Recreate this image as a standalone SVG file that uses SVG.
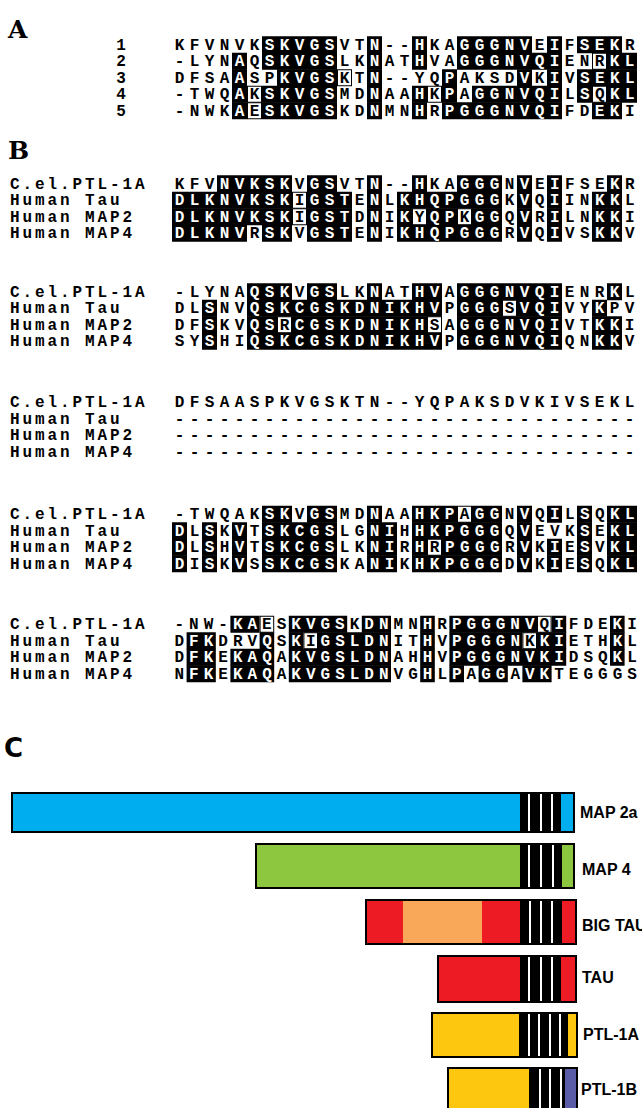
<svg xmlns="http://www.w3.org/2000/svg" width="642" height="1108" viewBox="0 0 642 1108">
<style>
.s{font-family:"Liberation Mono",monospace;font-weight:bold;font-size:16px;letter-spacing:5.4px;fill:#000}
.s5{letter-spacing:5px}
.w{fill:#fff}
.lab{font-family:"Liberation Mono",monospace;font-weight:bold;font-size:16px;letter-spacing:2.9px}
.num{font-family:"Liberation Mono",monospace;font-weight:bold;font-size:16px;text-anchor:middle}
.big{font-family:"DejaVu Serif",serif;font-weight:bold;font-size:25px}
.bx rect{fill:#000}
.bx rect.o{fill:#fff;stroke:#000;stroke-width:1}
.bl{font-family:"Liberation Sans",Arial,sans-serif;font-weight:bold;font-size:16px}
.bar{stroke:#000;stroke-width:2}
.st{fill:#fff}
</style>
<rect width="642" height="1108" fill="#fff"/>

<g id="panelA">
<text class="big" x="8" y="38">A</text>
<g transform="translate(0,36.25)">
<g class="bx">
<rect x="262" y="0" width="75" height="17"/><rect x="367" y="0" width="15" height="17"/><rect x="412" y="0" width="15" height="17"/><rect x="457" y="0" width="75" height="17"/><rect x="547" y="0" width="15" height="17"/><rect x="577" y="0" width="45" height="17"/>
<rect x="232" y="16.5" width="15" height="17"/><rect x="262" y="16.5" width="75" height="17"/><rect x="367" y="16.5" width="15" height="17"/><rect x="412" y="16.5" width="15" height="17"/><rect x="457" y="16.5" width="105" height="17"/><rect x="607" y="16.5" width="30" height="17"/><rect class="o" x="592.5" y="17" width="14" height="16"/>
<rect x="232" y="33" width="15" height="17"/><rect x="277" y="33" width="60" height="17"/><rect x="367" y="33" width="15" height="17"/><rect x="442" y="33" width="15" height="17"/><rect x="517" y="33" width="15" height="17"/><rect x="547" y="33" width="15" height="17"/><rect x="577" y="33" width="60" height="17"/><rect class="o" x="337.5" y="33.5" width="14" height="16"/>
<rect x="232" y="49.5" width="15" height="17"/><rect x="262" y="49.5" width="75" height="17"/><rect x="367" y="49.5" width="15" height="17"/><rect x="412" y="49.5" width="15" height="17"/><rect x="442" y="49.5" width="15" height="17"/><rect x="472" y="49.5" width="90" height="17"/><rect x="577" y="49.5" width="15" height="17"/><rect x="607" y="49.5" width="30" height="17"/><rect class="o" x="247.5" y="50" width="14" height="16"/><rect class="o" x="427.5" y="50" width="14" height="16"/><rect class="o" x="592.5" y="50" width="14" height="16"/>
<rect x="232" y="66" width="15" height="17"/><rect x="262" y="66" width="75" height="17"/><rect x="367" y="66" width="15" height="17"/><rect x="412" y="66" width="15" height="17"/><rect x="442" y="66" width="120" height="17"/><rect x="592" y="66" width="30" height="17"/><rect class="o" x="247.5" y="66.5" width="14" height="16"/>
</g>
<text class="num" x="121" y="13.25">1</text>
<text class="num" x="121" y="29.75">2</text>
<text class="num" x="121" y="46.25">3</text>
<text class="num" x="121" y="62.75">4</text>
<text class="num" x="121" y="79.25">5</text>
<text class="s" x="174.7" y="13.25">KFVNVK<tspan class="w">SKVGS</tspan>VT<tspan class="w">N</tspan>--<tspan class="w">H</tspan>KA<tspan class="w">GGGNV</tspan>E<tspan class="w">I</tspan>F<tspan class="w">SEK</tspan>R</text>
<text class="s" x="174.7" y="29.75">-LYN<tspan class="w">A</tspan>Q<tspan class="w">SKVGS</tspan>LK<tspan class="w">N</tspan>AT<tspan class="w">H</tspan>VA<tspan class="w">GGGNVQI</tspan>ENR<tspan class="w">KL</tspan></text>
<text class="s" x="174.7" y="46.25">DFSA<tspan class="w">A</tspan>SP<tspan class="w">KVGS</tspan>KT<tspan class="w">N</tspan>--YQ<tspan class="w">P</tspan>AKSD<tspan class="w">V</tspan>K<tspan class="w">I</tspan>V<tspan class="w">SEKL</tspan></text>
<text class="s" x="174.7" y="62.75">-TWQ<tspan class="w">A</tspan>K<tspan class="w">SKVGS</tspan>MD<tspan class="w">N</tspan>AA<tspan class="w">H</tspan>K<tspan class="w">P</tspan>A<tspan class="w">GGNVQI</tspan>L<tspan class="w">S</tspan>Q<tspan class="w">KL</tspan></text>
<text class="s" x="174.7" y="79.25">-NWK<tspan class="w">A</tspan>E<tspan class="w">SKVGS</tspan>KD<tspan class="w">N</tspan>MN<tspan class="w">H</tspan>R<tspan class="w">PGGGNVQI</tspan>FD<tspan class="w">EK</tspan>I</text>
</g>
</g>

<g id="panelB">
<text class="big" x="8" y="159">B</text>

<g id="block1" transform="translate(0,175.25)">
<g class="bx">
<rect x="217" y="0" width="75" height="17"/><rect x="307" y="0" width="30" height="17"/><rect x="367" y="0" width="15" height="17"/><rect x="412" y="0" width="15" height="17"/><rect x="457" y="0" width="45" height="17"/><rect x="517" y="0" width="15" height="17"/><rect x="547" y="0" width="15" height="17"/><rect x="607" y="0" width="15" height="17"/>
<rect x="172" y="16.5" width="120" height="17"/><rect x="307" y="16.5" width="45" height="17"/><rect x="367" y="16.5" width="15" height="17"/><rect x="397" y="16.5" width="105" height="17"/><rect x="517" y="16.5" width="15" height="17"/><rect x="547" y="16.5" width="15" height="17"/><rect x="592" y="16.5" width="30" height="17"/><rect class="o" x="292.5" y="17" width="14" height="16"/>
<rect x="172" y="33" width="120" height="17"/><rect x="307" y="33" width="45" height="17"/><rect x="367" y="33" width="15" height="17"/><rect x="397" y="33" width="15" height="17"/><rect x="427" y="33" width="30" height="17"/><rect x="472" y="33" width="30" height="17"/><rect x="517" y="33" width="15" height="17"/><rect x="547" y="33" width="15" height="17"/><rect x="592" y="33" width="30" height="17"/><rect class="o" x="292.5" y="33.5" width="14" height="16"/><rect class="o" x="412.5" y="33.5" width="14" height="16"/><rect class="o" x="457.5" y="33.5" width="14" height="16"/>
<rect x="172" y="49.5" width="75" height="17"/><rect x="262" y="49.5" width="30" height="17"/><rect x="307" y="49.5" width="45" height="17"/><rect x="367" y="49.5" width="15" height="17"/><rect x="397" y="49.5" width="105" height="17"/><rect x="517" y="49.5" width="15" height="17"/><rect x="547" y="49.5" width="15" height="17"/><rect x="592" y="49.5" width="30" height="17"/>
</g>
<text class="lab" x="10" y="13.25">C.el.PTL-1A</text>
<text class="lab" x="10" y="29.75">Human Tau</text>
<text class="lab" x="10" y="46.25">Human MAP2</text>
<text class="lab" x="10" y="62.75">Human MAP4</text>
<text class="s" x="174.7" y="13.25">KFV<tspan class="w">NVKSK</tspan>V<tspan class="w">GS</tspan>VT<tspan class="w">N</tspan>--<tspan class="w">H</tspan>KA<tspan class="w">GGG</tspan>N<tspan class="w">V</tspan>E<tspan class="w">I</tspan>FSE<tspan class="w">K</tspan>R</text>
<text class="s" x="174.7" y="29.75"><tspan class="w">DLKNVKSK</tspan>I<tspan class="w">GST</tspan>E<tspan class="w">N</tspan>L<tspan class="w">KHQPGGG</tspan>K<tspan class="w">V</tspan>Q<tspan class="w">I</tspan>IN<tspan class="w">KK</tspan>L</text>
<text class="s" x="174.7" y="46.25"><tspan class="w">DLKNVKSK</tspan>I<tspan class="w">GST</tspan>D<tspan class="w">N</tspan>I<tspan class="w">K</tspan>Y<tspan class="w">QP</tspan>K<tspan class="w">GG</tspan>Q<tspan class="w">V</tspan>R<tspan class="w">I</tspan>LN<tspan class="w">KK</tspan>I</text>
<text class="s" x="174.7" y="62.75"><tspan class="w">DLKNV</tspan>R<tspan class="w">SK</tspan>V<tspan class="w">GST</tspan>E<tspan class="w">N</tspan>I<tspan class="w">KHQPGGG</tspan>R<tspan class="w">V</tspan>Q<tspan class="w">I</tspan>VS<tspan class="w">KK</tspan>V</text>
</g>

<g id="block2" transform="translate(0,283.25)">
<g class="bx">
<rect x="247" y="0" width="45" height="17"/><rect x="307" y="0" width="30" height="17"/><rect x="367" y="0" width="15" height="17"/><rect x="412" y="0" width="30" height="17"/><rect x="457" y="0" width="105" height="17"/><rect x="607" y="0" width="15" height="17"/>
<rect x="202" y="16.5" width="15" height="17"/><rect x="247" y="16.5" width="195" height="17"/><rect x="457" y="16.5" width="45" height="17"/><rect x="517" y="16.5" width="45" height="17"/><rect x="592" y="16.5" width="15" height="17"/><rect class="o" x="502.5" y="17" width="14" height="16"/>
<rect x="202" y="33" width="15" height="17"/><rect x="247" y="33" width="30" height="17"/><rect x="292" y="33" width="135" height="17"/><rect x="457" y="33" width="105" height="17"/><rect x="592" y="33" width="30" height="17"/><rect class="o" x="277.5" y="33.5" width="14" height="16"/><rect class="o" x="427.5" y="33.5" width="14" height="16"/>
<rect x="202" y="49.5" width="15" height="17"/><rect x="247" y="49.5" width="195" height="17"/><rect x="457" y="49.5" width="105" height="17"/><rect x="592" y="49.5" width="30" height="17"/>
</g>
<text class="lab" x="10" y="13.25">C.el.PTL-1A</text>
<text class="lab" x="10" y="29.75">Human Tau</text>
<text class="lab" x="10" y="46.25">Human MAP2</text>
<text class="lab" x="10" y="62.75">Human MAP4</text>
<text class="s" x="174.7" y="13.25">-LYNA<tspan class="w">QSK</tspan>V<tspan class="w">GS</tspan>LK<tspan class="w">N</tspan>AT<tspan class="w">HV</tspan>A<tspan class="w">GGGNVQI</tspan>ENR<tspan class="w">K</tspan>L</text>
<text class="s" x="174.7" y="29.75">DL<tspan class="w">S</tspan>NV<tspan class="w">QSKCGSKDNIKHV</tspan>P<tspan class="w">GGG</tspan>S<tspan class="w">VQI</tspan>VY<tspan class="w">K</tspan>PV</text>
<text class="s" x="174.7" y="46.25">DF<tspan class="w">S</tspan>KV<tspan class="w">QS</tspan>R<tspan class="w">CGSKDNIKH</tspan>SA<tspan class="w">GGGNVQI</tspan>VT<tspan class="w">KK</tspan>I</text>
<text class="s" x="174.7" y="62.75">SY<tspan class="w">S</tspan>HI<tspan class="w">QSKCGSKDNIKHV</tspan>P<tspan class="w">GGGNVQI</tspan>QN<tspan class="w">KK</tspan>V</text>
</g>

<g id="block3" transform="translate(0,393.75)">
<text class="lab" x="10" y="13.25">C.el.PTL-1A</text>
<text class="lab" x="10" y="29.75">Human Tau</text>
<text class="lab" x="10" y="46.25">Human MAP2</text>
<text class="lab" x="10" y="62.75">Human MAP4</text>
<text class="s" x="174.7" y="13.25">DFSAASPKVGSKTN--YQPAKSDVKIVSEKL</text>
<text class="s" x="174.7" y="29.75">-------------------------------</text>
<text class="s" x="174.7" y="46.25">-------------------------------</text>
<text class="s" x="174.7" y="62.75">-------------------------------</text>
</g>

<g id="block4" transform="translate(0,505.75)">
<g class="bx">
<rect x="262" y="0" width="30" height="17"/><rect x="307" y="0" width="30" height="17"/><rect x="367" y="0" width="15" height="17"/><rect x="412" y="0" width="45" height="17"/><rect x="472" y="0" width="30" height="17"/><rect x="517" y="0" width="15" height="17"/><rect x="547" y="0" width="15" height="17"/><rect x="577" y="0" width="15" height="17"/><rect x="607" y="0" width="30" height="17"/><rect class="o" x="457.5" y="0.5" width="14" height="16"/>
<rect x="172" y="16.5" width="15" height="17"/><rect x="202" y="16.5" width="15" height="17"/><rect x="232" y="16.5" width="15" height="17"/><rect x="262" y="16.5" width="75" height="17"/><rect x="367" y="16.5" width="30" height="17"/><rect x="412" y="16.5" width="90" height="17"/><rect x="517" y="16.5" width="15" height="17"/><rect x="577" y="16.5" width="15" height="17"/><rect x="607" y="16.5" width="30" height="17"/>
<rect x="172" y="33" width="15" height="17"/><rect x="202" y="33" width="15" height="17"/><rect x="232" y="33" width="15" height="17"/><rect x="262" y="33" width="75" height="17"/><rect x="367" y="33" width="30" height="17"/><rect x="412" y="33" width="15" height="17"/><rect x="442" y="33" width="60" height="17"/><rect x="517" y="33" width="15" height="17"/><rect x="547" y="33" width="15" height="17"/><rect x="577" y="33" width="15" height="17"/><rect x="607" y="33" width="30" height="17"/><rect class="o" x="427.5" y="33.5" width="14" height="16"/>
<rect x="172" y="49.5" width="15" height="17"/><rect x="202" y="49.5" width="15" height="17"/><rect x="232" y="49.5" width="15" height="17"/><rect x="262" y="49.5" width="75" height="17"/><rect x="367" y="49.5" width="30" height="17"/><rect x="412" y="49.5" width="90" height="17"/><rect x="517" y="49.5" width="15" height="17"/><rect x="547" y="49.5" width="15" height="17"/><rect x="577" y="49.5" width="15" height="17"/><rect x="607" y="49.5" width="30" height="17"/>
</g>
<text class="lab" x="10" y="13.25">C.el.PTL-1A</text>
<text class="lab" x="10" y="29.75">Human Tau</text>
<text class="lab" x="10" y="46.25">Human MAP2</text>
<text class="lab" x="10" y="62.75">Human MAP4</text>
<text class="s" x="174.7" y="13.25">-TWQAK<tspan class="w">SK</tspan>V<tspan class="w">GS</tspan>MD<tspan class="w">N</tspan>AA<tspan class="w">HKP</tspan>A<tspan class="w">GG</tspan>N<tspan class="w">V</tspan>Q<tspan class="w">I</tspan>L<tspan class="w">S</tspan>Q<tspan class="w">KL</tspan></text>
<text class="s" x="174.7" y="29.75"><tspan class="w">D</tspan>L<tspan class="w">S</tspan>K<tspan class="w">V</tspan>T<tspan class="w">SKCGS</tspan>LG<tspan class="w">NI</tspan>H<tspan class="w">HKPGGG</tspan>Q<tspan class="w">V</tspan>EVK<tspan class="w">S</tspan>E<tspan class="w">KL</tspan></text>
<text class="s" x="174.7" y="46.25"><tspan class="w">D</tspan>L<tspan class="w">S</tspan>H<tspan class="w">V</tspan>T<tspan class="w">SKCGS</tspan>LK<tspan class="w">NI</tspan>R<tspan class="w">H</tspan>R<tspan class="w">PGGG</tspan>R<tspan class="w">V</tspan>K<tspan class="w">I</tspan>E<tspan class="w">S</tspan>V<tspan class="w">KL</tspan></text>
<text class="s" x="174.7" y="62.75"><tspan class="w">D</tspan>I<tspan class="w">S</tspan>K<tspan class="w">V</tspan>S<tspan class="w">SKCGS</tspan>KA<tspan class="w">NI</tspan>K<tspan class="w">HKPGGG</tspan>D<tspan class="w">V</tspan>K<tspan class="w">I</tspan>E<tspan class="w">S</tspan>Q<tspan class="w">KL</tspan></text>
</g>

<g id="block5" transform="translate(0,615.75)">
<g class="bx">
<rect x="230.4" y="0" width="29.2" height="17"/><rect x="288.8" y="0" width="58.4" height="17"/><rect x="361.8" y="0" width="29.2" height="17"/><rect x="420.2" y="0" width="14.6" height="17"/><rect x="449.4" y="0" width="87.6" height="17"/><rect x="551.6" y="0" width="14.6" height="17"/><rect x="610" y="0" width="14.6" height="17"/><rect class="o" x="260.1" y="0.5" width="13.6" height="16"/><rect class="o" x="537.5" y="0.5" width="13.6" height="16"/>
<rect x="186.6" y="16.5" width="29.2" height="17"/><rect x="259.6" y="16.5" width="14.6" height="17"/><rect x="288.8" y="16.5" width="14.6" height="17"/><rect x="318" y="16.5" width="73" height="17"/><rect x="420.2" y="16.5" width="14.6" height="17"/><rect x="449.4" y="16.5" width="73" height="17"/><rect x="537" y="16.5" width="29.2" height="17"/><rect x="610" y="16.5" width="14.6" height="17"/><rect class="o" x="303.9" y="17" width="13.6" height="16"/><rect class="o" x="522.9" y="17" width="13.6" height="16"/>
<rect x="186.6" y="33" width="29.2" height="17"/><rect x="230.4" y="33" width="43.8" height="17"/><rect x="288.8" y="33" width="102.2" height="17"/><rect x="420.2" y="33" width="14.6" height="17"/><rect x="449.4" y="33" width="116.8" height="17"/><rect x="610" y="33" width="14.6" height="17"/>
<rect x="186.6" y="49.5" width="29.2" height="17"/><rect x="230.4" y="49.5" width="43.8" height="17"/><rect x="288.8" y="49.5" width="102.2" height="17"/><rect x="420.2" y="49.5" width="14.6" height="17"/><rect x="449.4" y="49.5" width="14.6" height="17"/><rect x="478.6" y="49.5" width="29.2" height="17"/><rect x="522.4" y="49.5" width="29.2" height="17"/>
</g>
<text class="lab" x="10" y="13.25">C.el.PTL-1A</text>
<text class="lab" x="10" y="29.75">Human Tau</text>
<text class="lab" x="10" y="46.25">Human MAP2</text>
<text class="lab" x="10" y="62.75">Human MAP4</text>
<text class="s s5" x="174.5" y="13.25">-NW-<tspan class="w">KA</tspan>ES<tspan class="w">KVGS</tspan>K<tspan class="w">DN</tspan>MN<tspan class="w">H</tspan>R<tspan class="w">PGGGNV</tspan>Q<tspan class="w">I</tspan>FDE<tspan class="w">K</tspan>I</text>
<text class="s s5" x="174.5" y="29.75">D<tspan class="w">FK</tspan>DRV<tspan class="w">Q</tspan>S<tspan class="w">K</tspan>I<tspan class="w">GSLDN</tspan>IT<tspan class="w">H</tspan>V<tspan class="w">PGGGN</tspan>K<tspan class="w">KI</tspan>ETH<tspan class="w">K</tspan>L</text>
<text class="s s5" x="174.5" y="46.25">D<tspan class="w">FK</tspan>E<tspan class="w">KAQ</tspan>A<tspan class="w">KVGSLDN</tspan>AH<tspan class="w">H</tspan>V<tspan class="w">PGGGNVKI</tspan>DSQ<tspan class="w">K</tspan>L</text>
<text class="s s5" x="174.5" y="62.75">N<tspan class="w">FK</tspan>E<tspan class="w">KAQ</tspan>A<tspan class="w">KVGSLDN</tspan>VG<tspan class="w">H</tspan>L<tspan class="w">P</tspan>A<tspan class="w">GG</tspan>A<tspan class="w">VK</tspan>TEGGGS</text>
</g>
</g>

<g id="panelC">
<text x="4" y="757" style="font-family:'DejaVu Sans',sans-serif;font-weight:bold;font-size:26px">C</text>
<g id="map2a">
<rect class="bar" x="12" y="793" width="562" height="39" fill="#00AEEF"/>
<rect x="520" y="794" width="41" height="37" fill="#000"/>
<rect class="st" x="528" y="794" width="2" height="37"/><rect class="st" x="540" y="794" width="2" height="37"/><rect class="st" x="551" y="794" width="2" height="37"/>
<text class="bl" x="580" y="818">MAP 2a</text>
</g>
<g id="map4">
<rect class="bar" x="256" y="844" width="318" height="44" fill="#8DC63F"/>
<rect x="520" y="845" width="42" height="42" fill="#000"/>
<rect class="st" x="528" y="845" width="2" height="42"/><rect class="st" x="540" y="845" width="2" height="42"/><rect class="st" x="552" y="845" width="2" height="42"/>
<text class="bl" x="582" y="875">MAP 4</text>
</g>
<g id="bigtau">
<rect class="bar" x="366" y="900" width="210" height="44" fill="#ED1C24"/>
<rect x="403" y="901" width="79" height="42" fill="#F9A85A"/>
<rect x="520" y="901" width="42" height="42" fill="#000"/>
<rect class="st" x="529" y="901" width="2" height="42"/><rect class="st" x="540" y="901" width="2" height="42"/><rect class="st" x="551" y="901" width="2" height="42"/>
<text class="bl" x="582" y="931">BIG TAU</text>
</g>
<g id="tau">
<rect class="bar" x="438" y="956" width="138" height="46" fill="#ED1C24"/>
<rect x="520" y="957" width="41" height="44" fill="#000"/>
<rect class="st" x="528" y="957" width="2" height="44"/><rect class="st" x="540" y="957" width="2" height="44"/><rect class="st" x="551" y="957" width="2" height="44"/>
<text class="bl" x="582" y="983">TAU</text>
</g>
<g id="ptl1a">
<rect class="bar" x="432" y="1013" width="145" height="44" fill="#FEC70F"/>
<rect x="519" y="1014" width="49" height="42" fill="#000"/>
<rect class="st" x="528" y="1014" width="2" height="42"/><rect class="st" x="538" y="1014" width="2" height="42"/><rect class="st" x="549" y="1014" width="2" height="42"/><rect class="st" x="559" y="1014" width="2" height="42"/>
<text class="bl" x="583" y="1040">PTL-1A</text>
</g>
<g id="ptl1b">
<rect class="bar" x="448" y="1068" width="129" height="44" fill="#FEC70F"/>
<rect x="529" y="1069" width="36" height="42" fill="#000"/>
<rect x="565" y="1069" width="11" height="42" fill="#5A5CA8"/>
<rect class="st" x="539" y="1069" width="2" height="42"/><rect class="st" x="549" y="1069" width="2" height="42"/><rect class="st" x="560" y="1069" width="2" height="42"/>
<text class="bl" x="581" y="1095">PTL-1B</text>
</g>
</g>
</svg>
